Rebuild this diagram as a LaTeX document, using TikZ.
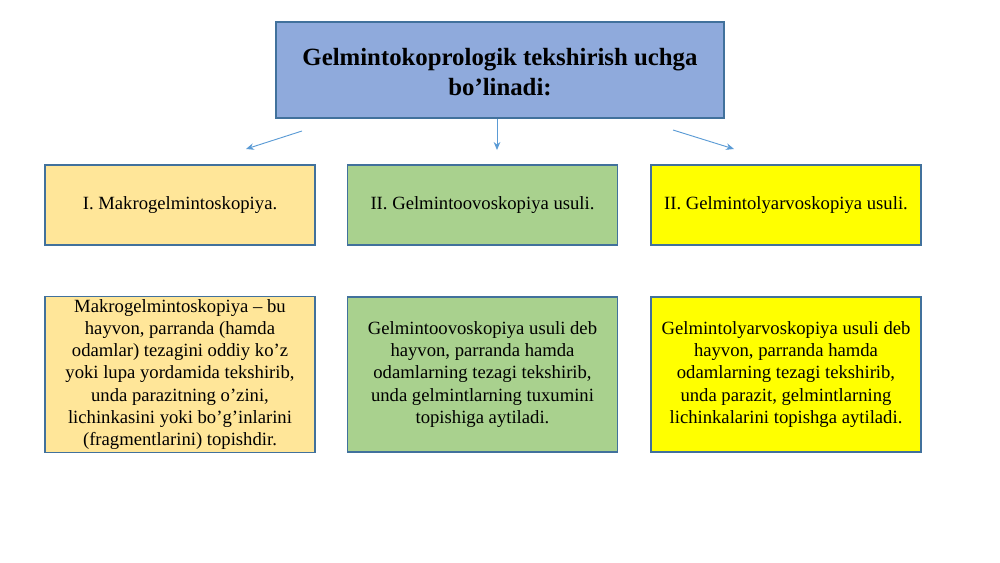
\documentclass[tikz,border=0pt]{standalone}
\usepackage{fontspec}
\setmainfont{Liberation Serif}
\usepackage{tikz}
\usetikzlibrary{arrows.meta,positioning}

\definecolor{boxline}{HTML}{41719C}
\definecolor{topfill}{HTML}{8FAADC}
\definecolor{orangefill}{HTML}{FFE699}
\definecolor{greenfill}{HTML}{A9D18E}
\definecolor{yellowfill}{HTML}{FFFF00}
\definecolor{arrowblue}{HTML}{5B9BD5}

\tikzset{
  box/.style={draw=boxline, line width=0.8pt, align=center, inner sep=2pt,
    font=\fontsize{14}{16.7}\selectfont},
  headbox/.style={box, minimum width=202.5pt, minimum height=60pt},
  textbox/.style={box, minimum width=202.5pt, minimum height=116.25pt},
  link/.style={draw=arrowblue, line width=0.7pt, -{Stealth[length=6pt,width=5pt]}}
}

\begin{document}
\begin{tikzpicture}[x=0.75pt,y=-0.75pt]
\useasboundingbox (0,0) rectangle (1000,562);
\node[box, fill=topfill, minimum width=336pt, minimum height=72pt,
  font=\fontsize{18.6}{22.5}\selectfont\bfseries] (top) at (500,70)
  {\raisebox{-3pt}[\height][\depth]{\begin{tabular}{@{}c@{}}Gelmintokoprologik tekshirish uchga\\bo’linadi:\end{tabular}}};
\node[headbox, fill=orangefill] (m1) at (180,205) {I. Makrogelmintoskopiya.};
\node[headbox, fill=greenfill] (m2) at ([shift={+(302.5,0)}]m1) {II. Gelmintoovoskopiya usuli.};
\node[headbox, fill=yellowfill] (m3) at ([shift={+(303.5,0)}]m2) {II. Gelmintolyarvoskopiya usuli.};
\node[textbox, fill=orangefill] (d1) at ([shift={+(0,169.5)}]m1)
  {Makrogelmintoskopiya – bu\\hayvon, parranda (hamda\\odamlar) tezagini oddiy ko’z\\yoki lupa yordamida tekshirib,\\unda parazitning o’zini,\\lichinkasini yoki bo’g’inlarini\\(fragmentlarini) topishdir.};
\node[textbox, fill=greenfill] (d2) at ([shift={+(0,169.5)}]m2)
  {Gelmintoovoskopiya usuli deb\\hayvon, parranda hamda\\odamlarning tezagi tekshirib,\\unda gelmintlarning tuxumini\\topishiga aytiladi.};
\node[textbox, fill=yellowfill] (d3) at ([shift={+(0,169.5)}]m3)
  {Gelmintolyarvoskopiya usuli deb\\hayvon, parranda hamda\\odamlarning tezagi tekshirib,\\unda parazit, gelmintlarning\\lichinkalarini topishga aytiladi.};
\coordinate (l1) at (302,131);
\coordinate (l1e) at (246,149);
\coordinate (l2e) at (497,150);
\coordinate (l3) at (673,130);
\coordinate (l3e) at (734,149);
\draw[link] (l1)--(l1e);
\draw[link] (top.south -| l2e)--(l2e);
\draw[link] (l3)--(l3e);
\end{tikzpicture}
\end{document}
